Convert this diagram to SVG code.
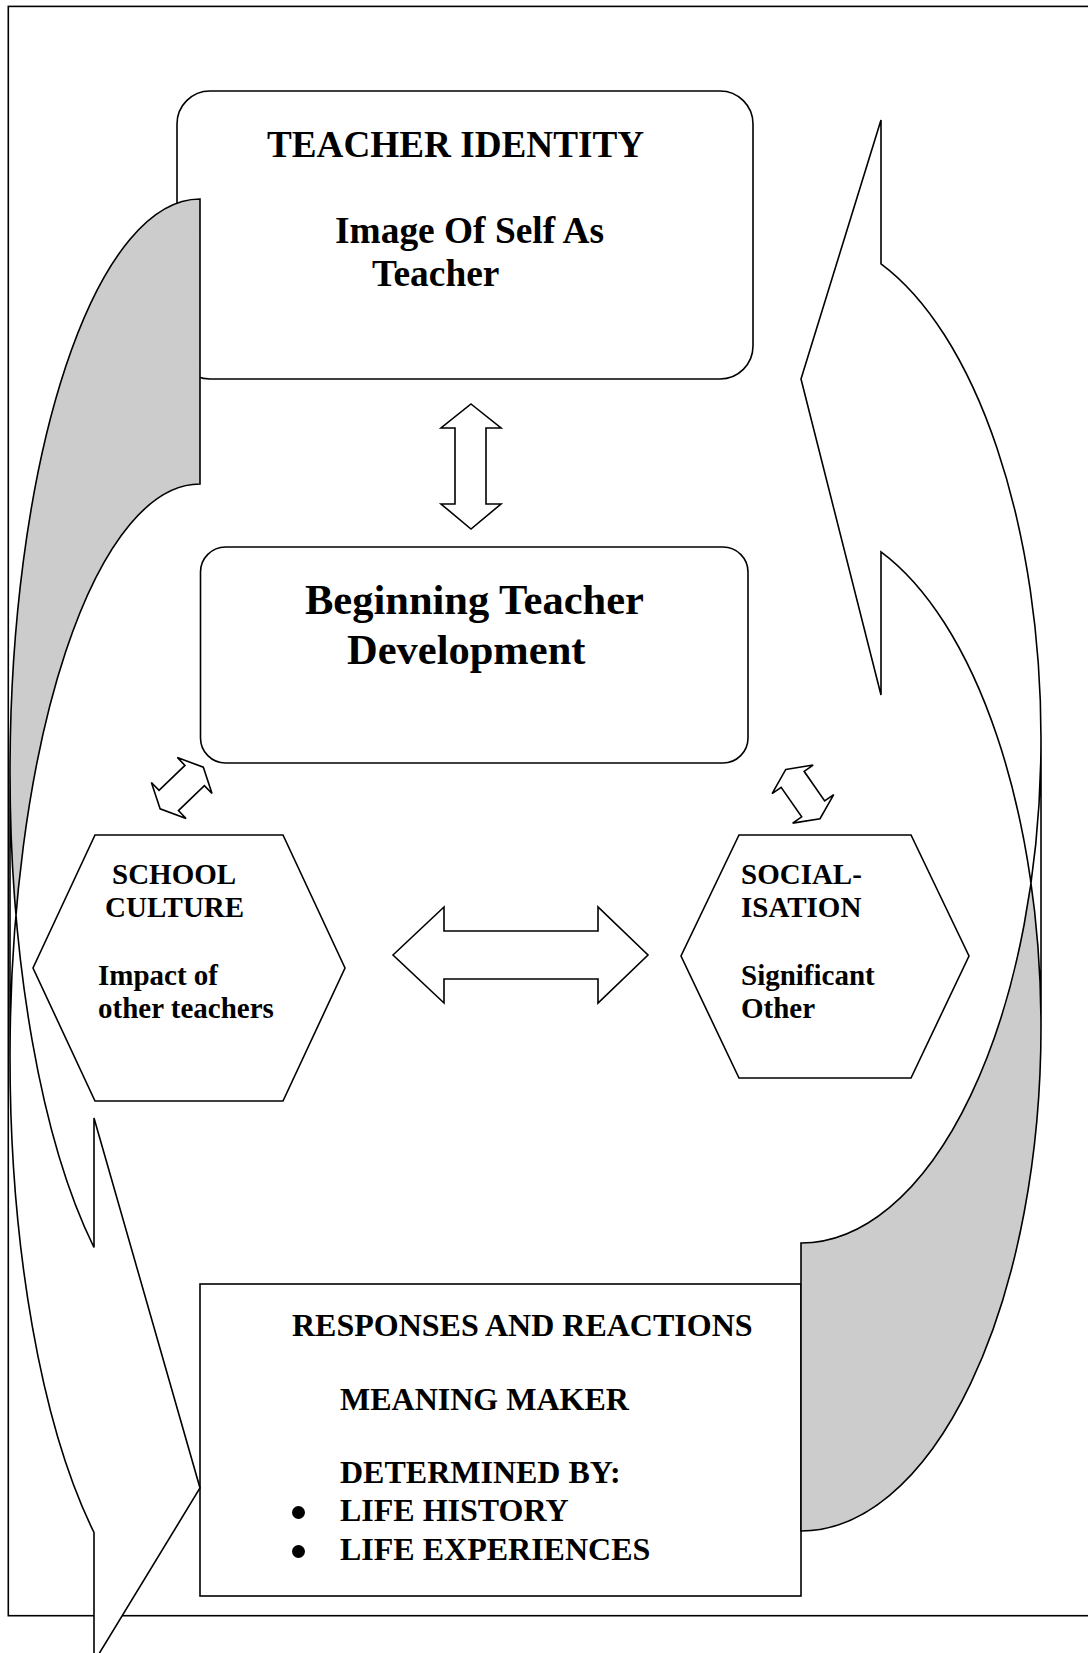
<svg xmlns="http://www.w3.org/2000/svg" width="1088" height="1653" viewBox="0 0 1088 1653">
<defs>
<style>
.frame{fill:#fff;stroke:#000;stroke-width:1.6}
.box{fill:#fff;stroke:#000;stroke-width:1.6}
.ol{fill:none;stroke:#000;stroke-width:1.6;stroke-linejoin:miter}
.lit{fill:#fff;stroke:none}
.dark{fill:#cccccc;stroke:none}
.bullet{fill:#000}
.t{font-family:"Liberation Serif","Times New Roman",serif;font-weight:bold;fill:#000}
</style>
<path id="dbl" d="M -30 0 L -18 -25 L -18 -14 L 18 -14 L 18 -25 L 30 0 L 18 25 L 18 14 L -18 14 L -18 25 Z"/>
</defs>
<rect x="0" y="0" width="1088" height="1653" fill="#fff"/>
<rect class="frame" x="8.3" y="6.4" width="1090" height="1609.3"/>

<g id="teacher-identity">
<rect class="box" x="177" y="91" width="576" height="288" rx="33" ry="33"/>
<text class="t" x="267" y="157" font-size="37.2">TEACHER IDENTITY</text>
<text class="t" x="335" y="243" font-size="37.4">Image Of Self As</text>
<text class="t" x="372" y="286" font-size="37.4">Teacher</text>
</g>

<g id="beginning-teacher-development">
<rect class="box" x="200.5" y="547" width="547.5" height="216" rx="25" ry="25"/>
<text class="t" x="305" y="614" font-size="42.5">Beginning Teacher</text>
<text class="t" x="347" y="664" font-size="42.5">Development</text>
</g>

<g id="school-culture">
<polygon class="box" points="95,835 283,835 345,968 283,1101 95,1101 33,968"/>
<text class="t" x="112" y="884" font-size="29">SCHOOL</text>
<text class="t" x="105" y="917" font-size="29">CULTURE</text>
<text class="t" x="98" y="985" font-size="29">Impact of</text>
<text class="t" x="98" y="1018" font-size="29">other teachers</text>
</g>

<g id="socialisation">
<polygon class="box" points="739,835 911,835 969,956 911,1078 739,1078 681,956"/>
<text class="t" x="741" y="884" font-size="29">SOCIAL-</text>
<text class="t" x="741" y="917" font-size="29">ISATION</text>
<text class="t" x="741" y="985" font-size="29">Significant</text>
<text class="t" x="741" y="1018" font-size="29">Other</text>
</g>

<g id="responses-and-reactions">
<rect class="box" x="200" y="1284" width="601" height="312"/>
<text class="t" x="292" y="1336" font-size="32">RESPONSES AND REACTIONS</text>
<text class="t" x="340" y="1410" font-size="32">MEANING MAKER</text>
<text class="t" x="340" y="1483" font-size="32">DETERMINED BY:</text>
<circle class="bullet" cx="298.5" cy="1512.5" r="6.5"/>
<text class="t" x="340" y="1521" font-size="32">LIFE HISTORY</text>
<circle class="bullet" cx="298.5" cy="1551.5" r="6.5"/>
<text class="t" x="340" y="1560" font-size="32">LIFE EXPERIENCES</text>
</g>

<g id="connectors">
<path class="box" d="M 471 404 L 501 428 L 486 428 L 486 504 L 501 504 L 471 529 L 441 504 L 455 504 L 455 428 L 441 428 Z"/>
<path class="box" d="M 393 955 L 444 907 L 444 931 L 598 931 L 598 907 L 648 955 L 598 1003 L 598 979 L 444 979 L 444 1003 Z"/>
<use href="#dbl" class="box" transform="translate(181.7 788) rotate(-43.9)"/>
<use href="#dbl" class="box" transform="translate(802.9 794.1) rotate(55.2)"/>

<g id="left-curved-arrow">
<path class="dark" d="M 200 199 A 190 573 0 0 0 10 772 L 10 1057 A 190 573 0 0 1 200 484 Z"/>
<path class="lit" d="M 10 772 A 190 573 0 0 0 94 1247.5 L 94 1118 L 200 1488 L 94 1662 L 94 1532.5 A 190 573 0 0 1 10 1057 Z"/>
<path class="ol" d="M 10 772 A 190 573 0 0 0 94 1247.5 L 94 1118 L 200 1488 L 94 1662 L 94 1532.5 A 190 573 0 0 1 10 1057 L 10 772 A 190 573 0 0 1 200 199 L 200 484 A 190 573 0 0 0 10 1057"/>
</g>

<g id="right-curved-arrow">
<path class="dark" d="M 801 1243 A 240 504 0 0 0 1041 739 L 1041 1027 A 240 504 0 0 1 801 1531 Z"/>
<path class="lit" d="M 1041 739 A 240 504 0 0 0 881 263.8 L 881 120 L 801 379 L 881 695 L 881 551.8 A 240 504 0 0 1 1041 1027 Z"/>
<path class="ol" d="M 1041 1027 A 240 504 0 0 0 881 551.8 L 881 695 L 801 379 L 881 120 L 881 263.8 A 240 504 0 0 1 1041 739 L 1041 1027 A 240 504 0 0 1 801 1531 L 801 1243 A 240 504 0 0 0 1041 739"/>
</g>
</g>
</svg>
